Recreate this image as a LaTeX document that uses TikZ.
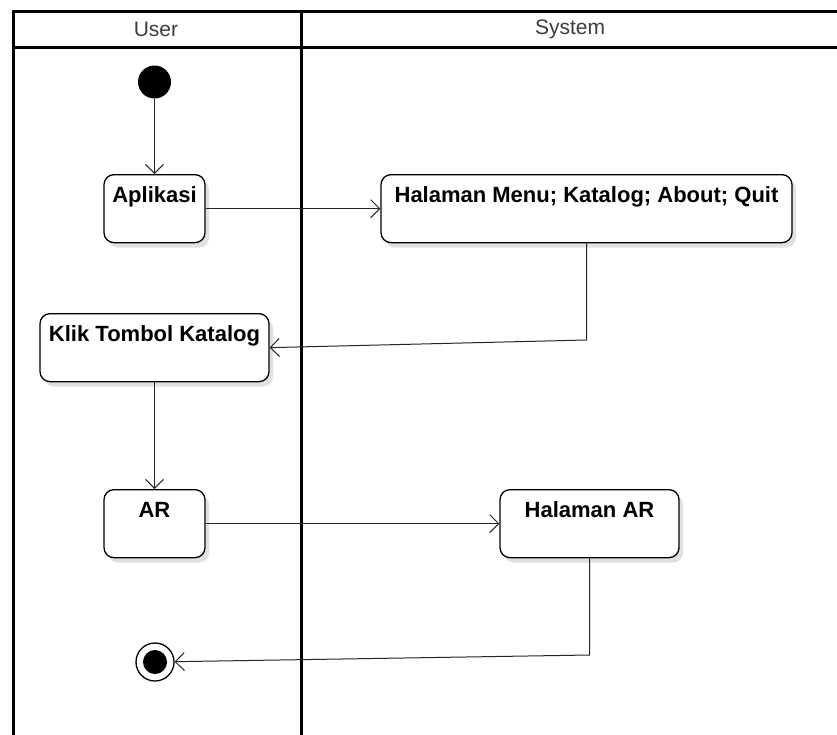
\documentclass[tikz,border=0pt]{standalone}
\usepackage{fontspec}
\setmainfont{Liberation Sans}
\usetikzlibrary{arrows.meta, shadows}
\definecolor{lanegray}{RGB}{60,60,60}
\definecolor{shadowgray}{RGB}{225,225,225}

\begin{document}
\begin{tikzpicture}[x=1pt, y=-1pt,
  lane/.style={line width=3pt, line cap=rect},
  head/.style={font=\fontsize{21}{24}\selectfont, text=lanegray},
  act/.style={rectangle, rounded corners=10pt, draw=black, line width=1.3pt, fill=white, anchor=north, align=center, inner ysep=0pt, text height=28pt, text depth=40pt, font=\fontsize{22}{26}\selectfont\bfseries, drop shadow={shadow xshift=4pt, shadow yshift=-5pt, fill=shadowgray, opacity=1}},
  start/.style={circle, fill=black, minimum size=33pt, inner sep=0pt},
  finish/.style={circle, draw=black, line width=1.3pt, fill=white, minimum size=38pt, inner sep=0pt, path picture={\fill[black] (path picture bounding box.center) circle (12pt);}},
  arr/.style={-{Straight Barb[length=9pt, width=18pt]}, line width=1pt, draw=black!85}
]
\useasboundingbox (0,0) rectangle (837,734);
\clip (0,0) rectangle (837,734);
\fill[white] (0,0) rectangle (837,734);

% swimlanes
\draw[lane] (13,11) -- (840,11);
\draw[lane] (13,47) -- (840,47);
\draw[lane] (13,11) -- (13,740);
\draw[lane] (301,11) -- (301,740);
\node[head] (user) at (156,29) {User};
\node[head] (system) at (570,29) {System};

% activities
\node[start] (init) at (154.5,82) {};
\node[act, minimum width=101pt] (app) at (154.5,174) {Aplikasi};
\node[act, minimum width=411pt] (menu) at (586.5,174) {Halaman Menu; Katalog; About; Quit};
\node[act, minimum width=229pt] (klik) at (154.5,313) {Klik Tombol Katalog};
\node[act, minimum width=101pt] (ar) at (154.5,489) {AR};
\node[act, minimum width=179pt] (har) at (589.5,489) {Halaman AR};
\node[finish] (final) at (155,662) {};
\coordinate (c1) at (586.5,340);
\coordinate (c2) at (589.5,655);

\draw[arr] (init) -- (app);
\draw[arr] (app) -- (menu);
\draw[arr] (menu.south) -- (c1) -- (klik.east);
\draw[arr] (klik) -- (ar);
\draw[arr] (ar) -- (har);
\draw[arr] (har.south) -- (c2) -- (final);
\end{tikzpicture}
\end{document}
